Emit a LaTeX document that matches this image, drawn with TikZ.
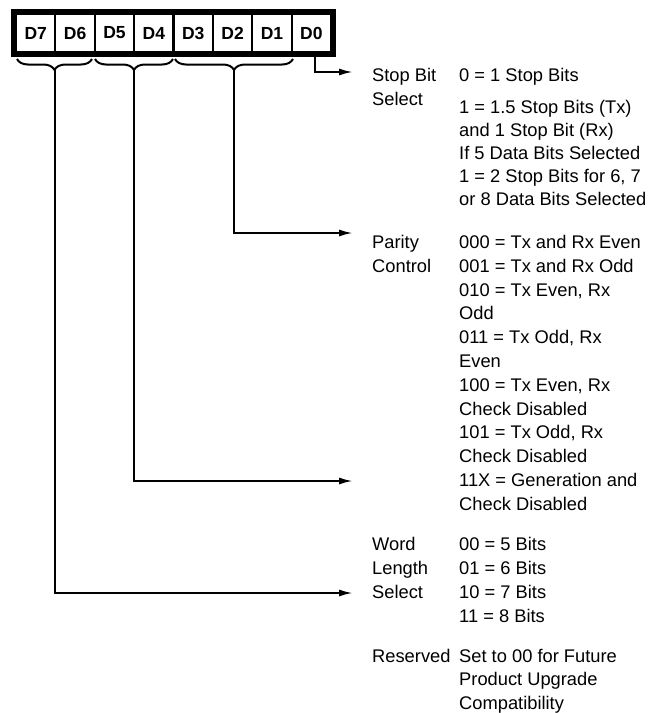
\documentclass[tikz,border=0pt]{standalone}
\usepackage{fontspec}
\setmainfont{Liberation Sans}
\usetikzlibrary{arrows.meta,decorations.pathreplacing}
\begin{document}
\begin{tikzpicture}[x=1pt,y=-1pt,
 cell/.style={draw, line width=2pt, minimum width=39.375pt, minimum height=38pt, inner sep=0pt, font=\fontsize{17.5}{19}\selectfont\bfseries},
 lbl/.style={anchor=base west, inner sep=0pt, font=\fontsize{18.3}{22}\selectfont},
 conn/.style={line width=2pt, -{Latex[length=14pt,width=7pt]}},
 brc/.style={line width=2pt, decorate, decoration={brace, mirror, amplitude=11pt}}]
\useasboundingbox (0,0) rectangle (656,713);
% register cells
\node[cell] (d7) at (35.69,33) {D7};
\node[cell] (d6) at (75.06,33) {D6};
\node[cell] (d5) at (114.44,33) {D5};
\node[cell] (d4) at (153.81,33) {D4};
\node[cell] (d3) at (193.19,33) {D3};
\node[cell] (d2) at (232.56,33) {D2};
\node[cell] (d1) at (271.94,33) {D1};
\node[cell] (d0) at (311.31,33) {D0};
\draw[line width=5pt] (13.5,11.5) rectangle (333.5,54.5);
% braces
\draw[brc] (17,59) -- (92,59);
\draw[brc] (95,59) -- (173,59);
\draw[brc] (175,59) -- (293,59);
\coordinate (t1) at (54.5,70);
\coordinate (t2) at (134,70);
\coordinate (t3) at (234,70);
% arrow ends
\coordinate (aS) at (353,72);
\coordinate (aP) at (353,233);
\coordinate (aG) at (353,481);
\coordinate (aW) at (353,593);
\draw[conn] ([xshift=4pt]d0.south) |- (aS);
\draw[conn] (t3) |- (aP);
\draw[conn] (t2) |- (aG);
\draw[conn] (t1) |- (aW);
% Stop bit
\node[lbl] (sl1) at (372,81.5) {Stop Bit};
\node[lbl] (sl2) at (372,105) {Select};
\node[lbl] (sd1) at (459,81.5) {0 = 1 Stop Bits};
\node[lbl] (sd2) at (459,113.5) {1 = 1.5 Stop Bits (Tx)};
\node[lbl] (sd3) at (459,136.5) {and 1 Stop Bit (Rx)};
\node[lbl] (sd4) at (459,159.5) {If 5 Data Bits Selected};
\node[lbl] (sd5) at (459,182.5) {1 = 2 Stop Bits for 6, 7};
\node[lbl] (sd6) at (459,205.5) {or 8 Data Bits Selected};
% Parity
\node[lbl] (pl1) at (372,248.5) {Parity};
\node[lbl] (pl2) at (372,272.3) {Control};
\node[lbl] (pd1) at (459,248.5) {000 = Tx and Rx Even};
\node[lbl] (pd2) at (459,272.3) {001 = Tx and Rx Odd};
\node[lbl] (pd3) at (459,296.1) {010 = Tx Even, Rx};
\node[lbl] (pd4) at (459,319.9) {Odd};
\node[lbl] (pd5) at (459,343.7) {011 = Tx Odd, Rx};
\node[lbl] (pd6) at (459,367.5) {Even};
\node[lbl] (pd7) at (459,391.3) {100 = Tx Even, Rx};
\node[lbl] (pd8) at (459,415.1) {Check Disabled};
\node[lbl] (pd9) at (459,438.9) {101 = Tx Odd, Rx};
\node[lbl] (pd10) at (459,462.7) {Check Disabled};
\node[lbl] (pd11) at (459,486.5) {11X = Generation and};
\node[lbl] (pd12) at (459,510.3) {Check Disabled};
% Word length
\node[lbl] (wl1) at (372,550.5) {Word};
\node[lbl] (wl2) at (372,574.5) {Length};
\node[lbl] (wl3) at (372,598.5) {Select};
\node[lbl] (wd1) at (459,550.5) {00 = 5 Bits};
\node[lbl] (wd2) at (459,574.5) {01 = 6 Bits};
\node[lbl] (wd3) at (459,598.5) {10 = 7 Bits};
\node[lbl] (wd4) at (459,622.5) {11 = 8 Bits};
% Reserved
\node[lbl] (rl1) at (372,662) {Reserved};
\node[lbl] (rd1) at (459,662) {Set to 00 for Future};
\node[lbl] (rd2) at (459,685.5) {Product Upgrade};
\node[lbl] (rd3) at (459,709) {Compatibility};
\end{tikzpicture}
\end{document}
